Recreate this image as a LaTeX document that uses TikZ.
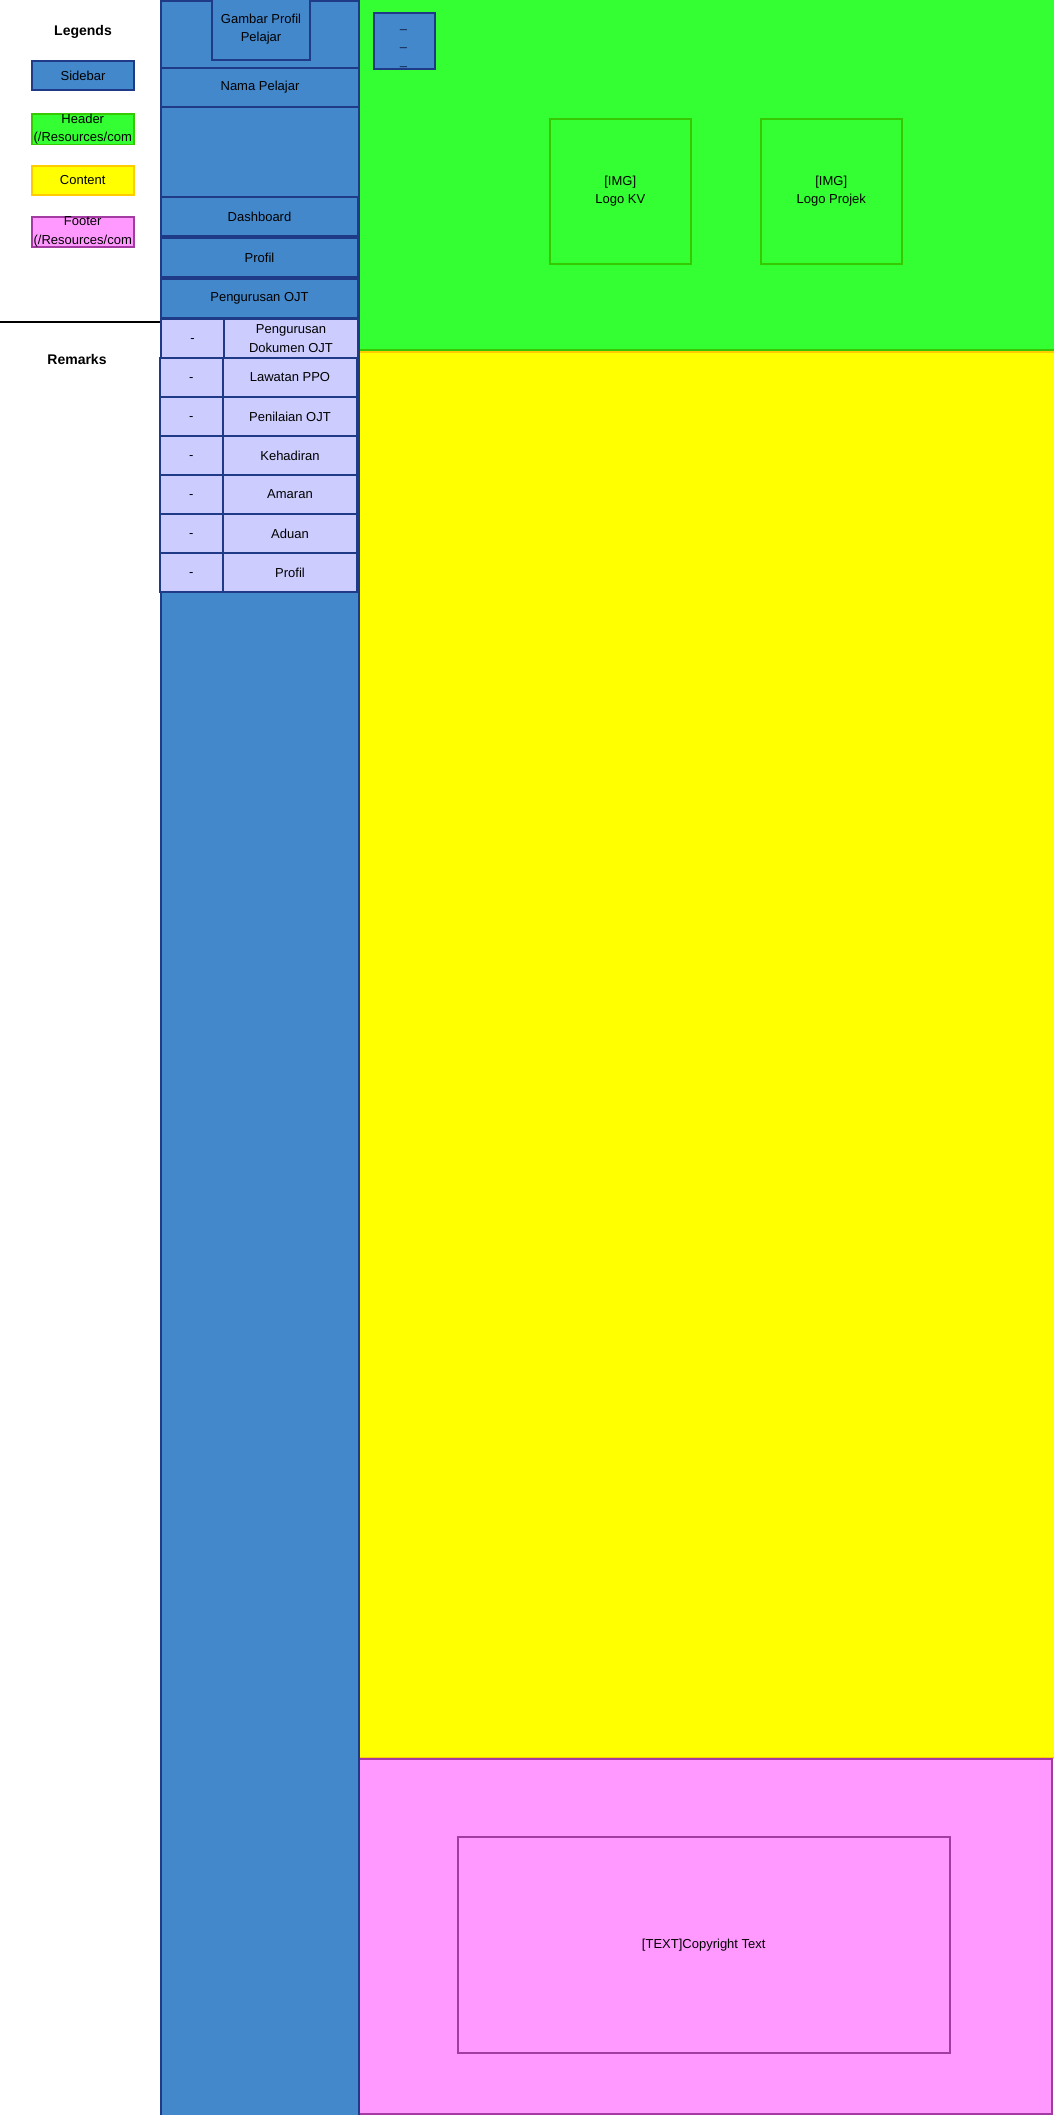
\documentclass[tikz,border=0pt]{standalone}
\usepackage{fontspec}
\setmainfont{Liberation Sans}
\definecolor{sbfill}{HTML}{4488CC}
\definecolor{sbline}{HTML}{1F3A87}
\definecolor{subfill}{HTML}{CCCCFF}
\definecolor{grfill}{HTML}{33FF33}
\definecolor{grline}{HTML}{36C800}
\definecolor{yefill}{HTML}{FFFF00}
\definecolor{yeline}{HTML}{FFCC00}
\definecolor{pkfill}{HTML}{FF99FF}
\definecolor{pkline}{HTML}{A33BA3}
\begin{document}
\begin{tikzpicture}[x=1pt,y=-1pt,
  box/.style={draw, line width=2pt, inner sep=0pt, anchor=north west, align=center,
    font=\fontsize{13}{18.5}\selectfont},
  sb/.style={box, fill=sbfill, draw=sbline},
  sub/.style={box, fill=subfill, draw=sbline},
  dashcell/.style={sub, minimum height=39, execute at begin node=\strut},
  grbox/.style={box, fill=grfill, draw=grline, line width=1.5pt},
  yebox/.style={box, fill=yefill, draw=yeline, line width=1.5pt},
  pkbox/.style={box, fill=pkfill, draw=pkline, line width=1.5pt},
  title/.style={font=\fontsize{14}{16}\selectfont\bfseries, inner sep=0pt},
  plain/.style={font=\fontsize{13}{18.5}\selectfont, inner sep=0pt, align=center}
]
\useasboundingbox[fill=white] (0,0) rectangle (1053,2115);

% legend panel
\node[title] (legends) at (83,32) {Legends};
\node[sb, minimum width=102, minimum height=29] (lgSidebar) at (31,60) {Sidebar};
\node[grbox, minimum width=102, minimum height=30] (lgHeader) at (31,113) {Header\\(/Resources/com};
\node[yebox, minimum width=102, minimum height=29] (lgContent) at (31,165) {Content};
\node[pkbox, minimum width=102, minimum height=30] (lgFooter) at (31,216) {Footer\\(/Resources/com};
\coordinate (sepL) at (0,322);
\coordinate (sepR) at (160,322);
\draw[line width=2pt] (sepL) -- (sepR);
\node[title] (remarks) at (77,359) {Remarks};

% header, content, footer
\node[grbox, minimum width=700, minimum height=352] (header) at (358,-3) {};
\node[yebox, minimum width=700, minimum height=1406] (content) at (358,351) {};
\node[pkbox, minimum width=693, minimum height=355] (footer) at (358,1758) {};
\node[pkbox, minimum width=492, minimum height=216] (copyright) at (457,1836) {[TEXT]Copyright Text};

% header contents
\node[sb, minimum width=61, minimum height=56] (burger) at (373,12) {};
\node[plain, text=sbline!50!black] (burgerText) at (403.5,50) {–\\–\\–};
\node[grbox, minimum width=141, minimum height=145] (logoKV) at (549,118) {[IMG]\\Logo KV};
\node[grbox, minimum width=141, minimum height=145] (logoProjek) at (760,118) {[IMG]\\Logo Projek};

% sidebar
\node[sb, minimum width=198, minimum height=2130] (sidebar) at (160,0) {};
\node[sb, minimum width=98, minimum height=62] (gambar) at (211,-3) {Gambar Profil\\Pelajar};
\node[sb, minimum width=198, minimum height=39] (nama) at (160,67) {Nama Pelajar};
\node[sb, minimum width=197, minimum height=39] (dashboard) at (160,196) {Dashboard};
\node[sb, minimum width=197, minimum height=39] (profil) at (160,237) {Profil};
\node[sb, minimum width=197, minimum height=39] (ojt) at (160,278) {Pengurusan OJT};

\node[dashcell, minimum width=63] (d1) at (160,318) {-};
\node[sub, minimum width=134, minimum height=39] (s1) at (223,318) {Pengurusan\\Dokumen OJT};
\node[dashcell, minimum width=63.5] (d2) at (158.5,357) {-};
\node[sub, minimum width=134, minimum height=39] (s2) at (222,357) {Lawatan PPO};
\node[dashcell, minimum width=63.5] (d3) at (158.5,396) {-};
\node[sub, minimum width=134, minimum height=39] (s3) at (222,396) {Penilaian OJT};
\node[dashcell, minimum width=63.5] (d4) at (158.5,435) {-};
\node[sub, minimum width=134, minimum height=39] (s4) at (222,435) {Kehadiran};
\node[dashcell, minimum width=63.5] (d5) at (158.5,474) {-};
\node[sub, minimum width=134, minimum height=39] (s5) at (222,474) {Amaran};
\node[dashcell, minimum width=63.5] (d6) at (158.5,513) {-};
\node[sub, minimum width=134, minimum height=39] (s6) at (222,513) {Aduan};
\node[dashcell, minimum width=63.5] (d7) at (158.5,552) {-};
\node[sub, minimum width=134, minimum height=39] (s7) at (222,552) {Profil};
\end{tikzpicture}
\end{document}
